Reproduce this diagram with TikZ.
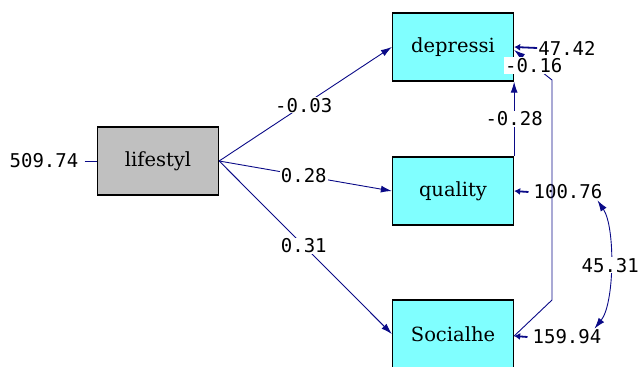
\documentclass[tikz,border=0pt]{standalone}
\usepackage{fontspec}
\setmainfont{DejaVu Serif}
\newfontfamily\numfont{DejaVu Sans Mono}
\usetikzlibrary{arrows.meta,positioning}
\definecolor{pathblue}{RGB}{10,10,135}
\definecolor{obsfill}{RGB}{128,255,255}
\definecolor{exofill}{RGB}{192,192,192}

\begin{document}
\begin{tikzpicture}[x=1pt,y=-1pt,
	box/.style={draw=black,line width=1.3pt,minimum width=121pt,minimum height=68pt,inner sep=0pt,font=\fontsize{19.5}{20}\selectfont},
	num/.style={font=\numfont\fontsize{19}{20}\selectfont,text=black,inner sep=1pt},
	link/.style={pathblue,line width=0.9pt,-{Latex[length=11pt,width=7pt]}},
	err/.style={pathblue,line width=1.8pt,-{Latex[length=6pt,width=7pt]}}]
	\useasboundingbox (0,0) rectangle (641,367);
	% variables
	\node[box,fill=exofill] (lifestyl) at (158,161) {lifestyl};
	\foreach \n/\t/\y in {depressi/depressi/47,quality/quality/191,socialhe/Socialhe/334}
		\node[box,fill=obsfill] (\n) at (453,\y) {\t};
	% error variances
	\node[num] (e0) at (44,161) {509.74};
	\node[num] (e1) at (567,48) {47.42};
	\node[num] (e2) at (568,192) {100.76};
	\node[num] (e3) at (567,337) {159.94};
	\draw[pathblue,line width=0.9pt] (e0.east)++(5pt,0) coordinate (s0) (s0) -- (lifestyl.west);
	\draw[err] (e1.west) -- (depressi.east);
	\draw[err] ([xshift=-4pt]e2.west) -- (quality.east);
	\draw[err] ([xshift=-4pt]e3.west) -- ([yshift=-2pt]socialhe.east);
	% paths
	\draw[link] (lifestyl.east) -- node[num,fill=white,pos=.49]{-0.03} (depressi.west);
	\draw[link] (lifestyl.east) -- node[num,fill=white,pos=.49]{0.28} (quality.west);
	\draw[link] (lifestyl.east) -- node[num,fill=white,pos=.49]{0.31} (socialhe.west);
	\draw[link] (quality.north east) -- node[num,fill=white]{-0.28} (depressi.south east);
	\path (552,300) coordinate (c1) (552,80) coordinate (c2);
	\draw[link] ([yshift=-2pt]socialhe.east) -- (c1) -- (c2) -- node[num,fill=white,pos=.48]{-0.16} ([yshift=-3pt]depressi.east);
	% covariance
	\path ([xshift=-6pt]e2.south east) coordinate (v2) ([xshift=-8pt]e3.north east) coordinate (v3);
	\draw[link,{Latex[length=11pt,width=7pt]}-{Latex[length=11pt,width=7pt]}] (v2) .. controls +(18,27) and +(20,-25) .. node[num,fill=white]{45.31} (v3);
\end{tikzpicture}
\end{document}
